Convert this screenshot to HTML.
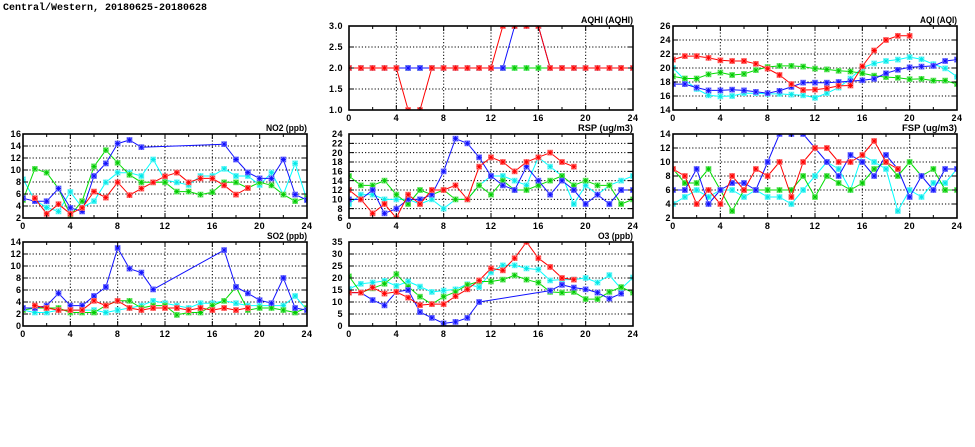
<!DOCTYPE html>
<html><head><meta charset="utf-8">
<style>
html,body{margin:0;padding:0;background:#fff;}
svg{display:block;}
.t{font-family:"Liberation Sans",sans-serif;font-weight:bold;font-size:9px;fill:#000;}
.yl{text-anchor:end;letter-spacing:.5px;}
.xl{text-anchor:middle;letter-spacing:.5px;}
.pt{text-anchor:end;}
.s{fill:none;stroke-width:1;vector-effect:non-scaling-stroke;stroke-linejoin:round;}
.g{stroke:#000;stroke-width:1;stroke-dasharray:1.2,2;fill:none;}
.k{stroke:#000;stroke-width:1;fill:none;}
.f{stroke:#000;stroke-width:1.6;fill:none;}
.r42{stroke:#f00;marker-start:url(#m42r);marker-mid:url(#m42r);marker-end:url(#m42r)}
.g42{stroke:#00dd00;marker-start:url(#m42g);marker-mid:url(#m42g);marker-end:url(#m42g)}
.b42{stroke:#1010ff;marker-start:url(#m42b);marker-mid:url(#m42b);marker-end:url(#m42b)}
.c42{stroke:#00ffff;marker-start:url(#m42c);marker-mid:url(#m42c);marker-end:url(#m42c)}
.r7{stroke:#f00;marker-start:url(#m7r);marker-mid:url(#m7r);marker-end:url(#m7r)}
.g7{stroke:#00dd00;marker-start:url(#m7g);marker-mid:url(#m7g);marker-end:url(#m7g)}
.b7{stroke:#1010ff;marker-start:url(#m7b);marker-mid:url(#m7b);marker-end:url(#m7b)}
.c7{stroke:#00ffff;marker-start:url(#m7c);marker-mid:url(#m7c);marker-end:url(#m7c)}
.r6{stroke:#f00;marker-start:url(#m6r);marker-mid:url(#m6r);marker-end:url(#m6r)}
.g6{stroke:#00dd00;marker-start:url(#m6g);marker-mid:url(#m6g);marker-end:url(#m6g)}
.b6{stroke:#1010ff;marker-start:url(#m6b);marker-mid:url(#m6b);marker-end:url(#m6b)}
.c6{stroke:#00ffff;marker-start:url(#m6c);marker-mid:url(#m6c);marker-end:url(#m6c)}
.r46{stroke:#f00;marker-start:url(#m46r);marker-mid:url(#m46r);marker-end:url(#m46r)}
.g46{stroke:#00dd00;marker-start:url(#m46g);marker-mid:url(#m46g);marker-end:url(#m46g)}
.b46{stroke:#1010ff;marker-start:url(#m46b);marker-mid:url(#m46b);marker-end:url(#m46b)}
.c46{stroke:#00ffff;marker-start:url(#m46c);marker-mid:url(#m46c);marker-end:url(#m46c)}
.r24{stroke:#f00;marker-start:url(#m24r);marker-mid:url(#m24r);marker-end:url(#m24r)}
.g24{stroke:#00dd00;marker-start:url(#m24g);marker-mid:url(#m24g);marker-end:url(#m24g)}
.b24{stroke:#1010ff;marker-start:url(#m24b);marker-mid:url(#m24b);marker-end:url(#m24b)}
.c24{stroke:#00ffff;marker-start:url(#m24c);marker-mid:url(#m24c);marker-end:url(#m24c)}
</style></head>
<body>
<svg width="975" height="447" viewBox="0 0 975 447" xmlns="http://www.w3.org/2000/svg">
<defs>
<g id="pr"><rect x=".5" y=".5" width="5" height="5" fill="#ffb8b8" stroke="#ff7070" stroke-width=".8"/><path d="M1 1L5 5M5 1L1 5M3 .5V5.5M.5 3H5.5" stroke="#f00" stroke-width=".9"/></g>
<g id="pg"><rect x=".5" y=".5" width="5" height="5" fill="#b8f4b8" stroke="#70e870" stroke-width=".8"/><path d="M1 1L5 5M5 1L1 5M3 .5V5.5M.5 3H5.5" stroke="#00cc00" stroke-width=".9"/></g>
<g id="pb"><rect x=".5" y=".5" width="5" height="5" fill="#b8b8ff" stroke="#7070ff" stroke-width=".8"/><path d="M1 1L5 5M5 1L1 5M3 .5V5.5M.5 3H5.5" stroke="#1010ff" stroke-width=".9"/></g>
<g id="pc"><rect x=".5" y=".5" width="5" height="5" fill="#c8ffff" stroke="#70f8f8" stroke-width=".8"/><path d="M1 1L5 5M5 1L1 5M3 .5V5.5M.5 3H5.5" stroke="#00e8e8" stroke-width=".9"/></g>

<marker id="m42r" markerUnits="userSpaceOnUse" markerWidth="0.50704" markerHeight="0.142857" viewBox="0 0 6 6" refX="3" refY="3" preserveAspectRatio="none"><use href="#pr"/></marker>
<marker id="m42g" markerUnits="userSpaceOnUse" markerWidth="0.50704" markerHeight="0.142857" viewBox="0 0 6 6" refX="3" refY="3" preserveAspectRatio="none"><use href="#pg"/></marker>
<marker id="m42b" markerUnits="userSpaceOnUse" markerWidth="0.50704" markerHeight="0.142857" viewBox="0 0 6 6" refX="3" refY="3" preserveAspectRatio="none"><use href="#pb"/></marker>
<marker id="m42c" markerUnits="userSpaceOnUse" markerWidth="0.50704" markerHeight="0.142857" viewBox="0 0 6 6" refX="3" refY="3" preserveAspectRatio="none"><use href="#pc"/></marker>

<marker id="m7r" markerUnits="userSpaceOnUse" markerWidth="0.50704" markerHeight="0.857143" viewBox="0 0 6 6" refX="3" refY="3" preserveAspectRatio="none"><use href="#pr"/></marker>
<marker id="m7g" markerUnits="userSpaceOnUse" markerWidth="0.50704" markerHeight="0.857143" viewBox="0 0 6 6" refX="3" refY="3" preserveAspectRatio="none"><use href="#pg"/></marker>
<marker id="m7b" markerUnits="userSpaceOnUse" markerWidth="0.50704" markerHeight="0.857143" viewBox="0 0 6 6" refX="3" refY="3" preserveAspectRatio="none"><use href="#pb"/></marker>
<marker id="m7c" markerUnits="userSpaceOnUse" markerWidth="0.50704" markerHeight="0.857143" viewBox="0 0 6 6" refX="3" refY="3" preserveAspectRatio="none"><use href="#pc"/></marker>

<marker id="m6r" markerUnits="userSpaceOnUse" markerWidth="0.50704" markerHeight="1" viewBox="0 0 6 6" refX="3" refY="3" preserveAspectRatio="none"><use href="#pr"/></marker>
<marker id="m6g" markerUnits="userSpaceOnUse" markerWidth="0.50704" markerHeight="1" viewBox="0 0 6 6" refX="3" refY="3" preserveAspectRatio="none"><use href="#pg"/></marker>
<marker id="m6b" markerUnits="userSpaceOnUse" markerWidth="0.50704" markerHeight="1" viewBox="0 0 6 6" refX="3" refY="3" preserveAspectRatio="none"><use href="#pb"/></marker>
<marker id="m6c" markerUnits="userSpaceOnUse" markerWidth="0.50704" markerHeight="1" viewBox="0 0 6 6" refX="3" refY="3" preserveAspectRatio="none"><use href="#pc"/></marker>

<marker id="m46r" markerUnits="userSpaceOnUse" markerWidth="0.50704" markerHeight="1.285714" viewBox="0 0 6 6" refX="3" refY="3" preserveAspectRatio="none"><use href="#pr"/></marker>
<marker id="m46g" markerUnits="userSpaceOnUse" markerWidth="0.50704" markerHeight="1.285714" viewBox="0 0 6 6" refX="3" refY="3" preserveAspectRatio="none"><use href="#pg"/></marker>
<marker id="m46b" markerUnits="userSpaceOnUse" markerWidth="0.50704" markerHeight="1.285714" viewBox="0 0 6 6" refX="3" refY="3" preserveAspectRatio="none"><use href="#pb"/></marker>
<marker id="m46c" markerUnits="userSpaceOnUse" markerWidth="0.50704" markerHeight="1.285714" viewBox="0 0 6 6" refX="3" refY="3" preserveAspectRatio="none"><use href="#pc"/></marker>

<marker id="m24r" markerUnits="userSpaceOnUse" markerWidth="0.50704" markerHeight="2.5" viewBox="0 0 6 6" refX="3" refY="3" preserveAspectRatio="none"><use href="#pr"/></marker>
<marker id="m24g" markerUnits="userSpaceOnUse" markerWidth="0.50704" markerHeight="2.5" viewBox="0 0 6 6" refX="3" refY="3" preserveAspectRatio="none"><use href="#pg"/></marker>
<marker id="m24b" markerUnits="userSpaceOnUse" markerWidth="0.50704" markerHeight="2.5" viewBox="0 0 6 6" refX="3" refY="3" preserveAspectRatio="none"><use href="#pb"/></marker>
<marker id="m24c" markerUnits="userSpaceOnUse" markerWidth="0.50704" markerHeight="2.5" viewBox="0 0 6 6" refX="3" refY="3" preserveAspectRatio="none"><use href="#pc"/></marker>

<path id="xgrid" class="g" d="M47.33 0V84M94.67 0V84M142 0V84M189.33 0V84M236.67 0V84"/>
<path id="xtick" class="k" d="M47.33 84v-5M47.33 0v5M94.67 84v-5M94.67 0v5M142 84v-5M142 0v5M189.33 84v-5M189.33 0v5M236.67 84v-5M236.67 0v5M23.67 84v-3M23.67 0v3M71 84v-3M71 0v3M118.33 84v-3M118.33 0v3M165.67 84v-3M165.67 0v3M213 84v-3M213 0v3M260.33 84v-3M260.33 0v3"/>
<path id="yg4" class="g" d="M0 21H284M0 42H284M0 63H284"/>
<path id="yt4" class="k" d="M0 21h5M284 21h-5M0 42h5M284 42h-5M0 63h5M284 63h-5"/>
<path id="yg6" class="g" d="M0 14H284M0 28H284M0 42H284M0 56H284M0 70H284"/>
<path id="yt6" class="k" d="M0 14h5M284 14h-5M0 28h5M284 28h-5M0 42h5M284 42h-5M0 56h5M284 56h-5M0 70h5M284 70h-5"/>
<path id="yg7" class="g" d="M0 12H284M0 24H284M0 36H284M0 48H284M0 60H284M0 72H284"/>
<path id="yt7" class="k" d="M0 12h5M284 12h-5M0 24h5M284 24h-5M0 36h5M284 36h-5M0 48h5M284 48h-5M0 60h5M284 60h-5M0 72h5M284 72h-5"/>
<path id="yg9" class="g" d="M0 9.33H284M0 18.67H284M0 28H284M0 37.33H284M0 46.67H284M0 56H284M0 65.33H284M0 74.67H284"/>
<path id="yt9" class="k" d="M0 9.33h5M284 9.33h-5M0 18.67h5M284 18.67h-5M0 28h5M284 28h-5M0 37.33h5M284 37.33h-5M0 46.67h5M284 46.67h-5M0 56h5M284 56h-5M0 65.33h5M284 65.33h-5M0 74.67h5M284 74.67h-5"/>

<clipPath id="cAQHI"><rect x="349" y="26" width="284" height="84"/></clipPath>
<clipPath id="cAQI"><rect x="673" y="26" width="284" height="84"/></clipPath>
<clipPath id="cNO2"><rect x="23" y="134" width="284" height="84"/></clipPath>
<clipPath id="cRSP"><rect x="349" y="134" width="284" height="84"/></clipPath>
<clipPath id="cFSP"><rect x="673" y="134" width="284" height="84"/></clipPath>
<clipPath id="cSO2"><rect x="23" y="242" width="284" height="84"/></clipPath>
<clipPath id="cO3"><rect x="349" y="242" width="284" height="84"/></clipPath>
</defs>

<rect width="975" height="447" fill="#fff"/>

<text x="3" y="10" font-family="Liberation Mono, monospace" font-weight="bold" font-size="10.5" textLength="204" lengthAdjust="spacingAndGlyphs">Central/Western, 20180625-20180628</text>

<g transform="translate(349,26)"><use href="#xgrid"/><use href="#yg4"/></g>
<g transform="translate(673,26)"><use href="#xgrid"/><use href="#yg6"/></g>
<g transform="translate(23,134)"><use href="#xgrid"/><use href="#yg7"/></g>
<g transform="translate(349,134)"><use href="#xgrid"/><use href="#yg9"/></g>
<g transform="translate(673,134)"><use href="#xgrid"/><use href="#yg6"/></g>
<g transform="translate(23,242)"><use href="#xgrid"/><use href="#yg7"/></g>
<g transform="translate(349,242)"><use href="#xgrid"/><use href="#yg7"/></g>

<g clip-path="url(#cAQHI)"><g transform="translate(349,152) scale(11.8333,-42)">
<polyline class="s c42" points="0,2 1,2 2,2 3,2 4,2 5,2 6,2 7,2 8,2 9,2 10,2 11,2 12,2 13,2 14,2 15,2 16,2 17,2 18,2 19,2 20,2 21,2 22,2 23,2 24,2"/>
<polyline class="s g42" points="0,2 1,2 2,2 3,2 4,2 5,2 6,2 7,2 8,2 9,2 10,2 11,2 12,2 13,2 14,2 15,2 16,2 17,2 18,2 19,2 20,2 21,2 22,2 23,2 24,2"/>
<polyline class="s b42" points="0,2 1,2 2,2 3,2 4,2 5,2 6,2 7,2 8,2 9,2 10,2 11,2 12,2 13,2 14,3 15,3 16,3 17,2 18,2 19,2 20,2 21,2 22,2 23,2 24,2"/>
<polyline class="s r42" points="0,2 1,2 2,2 3,2 4,2 5,1 6,1 7,2 8,2 9,2 10,2 11,2 12,2 13,3 14,3 15,3 16,3 17,2 18,2 19,2 20,2 21,2 22,2 23,2 24,2"/>
</g></g>

<g clip-path="url(#cAQI)"><g transform="translate(673,208) scale(11.8333,-7)">
<polyline class="s c7" points="0,20.0 1,18.3 2,17.0 3,16.1 4,15.95 5,16.0 6,16.4 7,16.4 8,16.3 9,16.3 10,16.2 11,16.1 12,15.75 13,16.4 14,17.2 15,18.5 16,20.05 17,20.65 18,21.0 19,21.2 20,21.55 21,21.25 22,20.55 23,19.95 24,18.75"/>
<polyline class="s g7" points="0,18.8 1,18.5 2,18.5 3,19.1 4,19.35 5,19.0 6,19.15 7,19.7 8,20.15 9,20.3 10,20.3 11,20.2 12,19.9 13,19.8 14,19.6 15,19.5 16,19.25 17,18.9 18,18.7 19,18.6 20,18.4 21,18.45 22,18.2 23,18.2 24,17.7"/>
<polyline class="s b7" points="0,17.7 1,17.7 2,17.2 3,16.8 4,16.8 5,16.9 6,16.8 7,16.6 8,16.4 9,16.75 10,17.3 11,17.9 12,17.9 13,17.9 14,18.0 15,18.1 16,18.25 17,18.45 18,19.25 19,19.75 20,20.1 21,20.2 22,20.3 23,21.0 24,21.2"/>
<polyline class="s r7" points="0,21.2 1,21.7 2,21.7 3,21.45 4,21.1 5,21.0 6,21.0 7,20.6 8,19.9 9,19.0 10,17.7 11,16.85 12,16.9 13,17.1 14,17.45 15,17.5 16,20.25 17,22.5 18,24.0 19,24.6 20,24.6"/>
</g></g>

<g clip-path="url(#cNO2)"><g transform="translate(23,230) scale(11.8333,-6)">
<polyline class="s c6" points="0,8.45 1,5.0 2,3.75 3,3.1 4,6.35 5,3.75 6,4.8 7,7.95 8,9.55 9,9.55 10,9.0 11,11.75 12,8.3 13,7.95 14,7.5 15,9.0 16,9.0 17,10.2 18,9.0 19,9.0 20,7.5 21,9.55 22,5.9 23,11.1 24,5.0"/>
<polyline class="s g6" points="0,5.0 1,10.2 2,9.55 3,6.9 4,2.45 5,4.8 6,10.6 7,13.3 8,11.2 9,9.2 10,7.95 11,7.95 12,7.95 13,6.4 14,6.4 15,5.9 16,6.3 17,7.95 18,7.95 19,7.0 20,7.95 21,7.45 22,5.9 23,4.8 24,5.4"/>
<polyline class="s b6" points="0,5.3 1,4.8 2,4.8 3,6.9 4,3.7 5,3.1 6,9.0 7,11.1 8,14.4 9,15.0 10,13.8 17,14.3 18,11.75 19,9.6 20,8.6 21,8.6 22,11.75 23,5.9 24,5.0"/>
<polyline class="s r6" points="1,5.3 2,2.7 3,4.3 4,2.7 5,3.7 6,6.4 7,5.4 8,7.95 9,5.8 10,6.9 11,7.95 12,8.95 13,9.55 14,7.95 15,8.6 16,8.6 17,7.45 18,5.9 19,7.0"/>
</g></g>

<g clip-path="url(#cRSP)"><g transform="translate(349,246) scale(11.8333,-4.66667)">
<polyline class="s c46" points="0,9 1,11 2,11 3,10 4,10 5,10 6,9 7,10 8,8 9,10 10,10 11,13 12,15 13,15 14,14 15,13 16,19 17,17 18,15 19,9 20,13 21,11 22,13 23,14 24,15"/>
<polyline class="s g46" points="0,15 1,13 2,13 3,14 4,11 5,9 6,12 7,11 8,12 9,10 10,10 11,13 12,11 13,14 14,12 15,12 16,13 17,14 18,15 19,13 20,14 21,13 22,13 23,9 24,10"/>
<polyline class="s b46" points="0,10 1,10 2,12 3,7 4,8 5,10 6,10 7,11 8,16 9,23 10,22 11,19 12,15 13,13 14,12 15,17 16,14 17,11 18,14 19,12 20,9 21,11 22,9 23,12 24,12"/>
<polyline class="s r46" points="0,12 1,10 2,7 3,9 4,6 5,11 6,9 7,12 8,12 9,13 10,10 11,17 12,19 13,18 14,16 15,18 16,19 17,20 18,18 19,17"/>
</g></g>

<g clip-path="url(#cFSP)"><g transform="translate(673,232) scale(11.8333,-7)">
<polyline class="s c7" points="0,4 1,5 2,6 3,5 4,6 5,6 6,5 7,6 8,5 9,5 10,4 11,6 12,8 13,10 14,9 15,6 16,11 17,10 18,9 19,3 20,6 21,5 22,7 23,7 24,9"/>
<polyline class="s g7" points="0,9 1,7 2,7 3,9 4,6 5,3 6,6 7,6 8,6 9,6 10,6 11,8 12,5 13,8 14,7 15,6 16,7 17,9 18,10 19,8 20,10 21,8 22,9 23,6 24,6"/>
<polyline class="s b7" points="0,6 1,6 2,9 3,4 4,6 5,7 6,7 7,6 8,10 9,14 10,14 11,14 12,12 13,10 14,8 15,11 16,10 17,8 18,11 19,9 20,5 21,8 22,6 23,9 24,9"/>
<polyline class="s r7" points="0,9 1,8 2,4 3,6 4,4 5,8 6,6 7,9 8,8 9,10 10,5 11,10 12,12 13,12 14,10 15,10 16,11 17,13 18,10 19,9"/>
</g></g>

<g clip-path="url(#cSO2)"><g transform="translate(23,326) scale(11.8333,-6)">
<polyline class="s c6" points="0,2.65 1,2.25 2,2.25 3,2.65 4,2.65 5,2.65 6,2.65 7,2.25 8,2.65 9,3.0 10,3.4 11,4.2 12,3.8 13,3.4 14,3.0 15,3.8 16,3.8 17,4.2 18,3.8 19,3.4 20,3.4 21,3.4 22,3.4 23,5.0 24,2.65"/>
<polyline class="s g6" points="0,2.65 1,3.0 2,3.0 3,3.0 4,2.25 5,2.25 6,2.25 7,3.4 8,4.2 9,4.2 10,3.0 11,3.4 12,3.4 13,1.85 14,2.25 15,2.25 16,3.4 17,4.2 18,6.5 19,2.65 20,3.0 21,3.0 22,2.65 23,2.25 24,3.0"/>
<polyline class="s b6" points="0,3.0 1,3.0 2,3.4 3,5.45 4,3.4 5,3.4 6,5.0 7,6.5 8,13.0 9,9.55 10,8.9 11,6.1 17,12.65 18,6.5 19,5.45 20,4.3 21,3.8 22,8.0 23,3.0 24,2.65"/>
<polyline class="s r6" points="1,3.4 2,3.0 3,2.65 4,2.65 5,2.65 6,4.2 7,3.4 8,4.2 9,3.0 10,2.65 11,3.0 12,3.0 13,3.0 14,2.65 15,3.0 16,2.65 17,3.0 18,2.65 19,3.0"/>
</g></g>

<g clip-path="url(#cO3)"><g transform="translate(349,326) scale(11.8333,-2.4)">
<polyline class="s c24" points="0,15.5 1,17.6 2,18.1 3,18.8 4,16.7 5,18.55 6,16.4 7,14.2 8,14.75 9,15.3 10,17.4 11,16.2 12,22.35 13,25.3 14,25.3 15,24.0 16,23.5 17,19.0 18,19.3 19,19.3 20,20.0 21,18.1 22,21.2 23,15.5 24,20.2"/>
<polyline class="s g24" points="0,20.7 1,13.9 2,15.7 3,17.6 4,21.6 5,16.4 6,12.2 7,9.1 8,12.2 9,14.2 10,17.15 11,18.55 12,18.55 13,19.3 14,21.1 15,19.3 16,18.1 17,14.2 18,13.9 19,14.2 20,11.2 21,11.2 22,14.2 23,16.2 24,13.9"/>
<polyline class="s b24" points="0,13.9 1,13.9 2,10.8 3,8.6 4,14.2 5,15.0 6,5.8 7,3.4 8,1.1 9,1.7 10,3.4 11,10.0 17,14.75 18,17.15 19,16.0 20,15.3 21,13.9 22,11.4 23,13.5"/>
<polyline class="s r24" points="0,13.9 1,13.9 2,16.0 3,13.5 4,14.2 5,11.8 6,8.7 7,9.1 8,9.1 9,12.4 10,15.3 11,19.0 12,24.0 13,23.2 14,28.25 15,35 16,28.25 17,24.6 18,20.0 19,19.3"/>
</g></g>

<g transform="translate(349,26)"><use href="#xtick"/><use href="#yt4"/><rect class="f" x="0" y="0" width="284" height="84"/></g>
<g transform="translate(673,26)"><use href="#xtick"/><use href="#yt6"/><rect class="f" x="0" y="0" width="284" height="84"/></g>
<g transform="translate(23,134)"><use href="#xtick"/><use href="#yt7"/><rect class="f" x="0" y="0" width="284" height="84"/></g>
<g transform="translate(349,134)"><use href="#xtick"/><use href="#yt9"/><rect class="f" x="0" y="0" width="284" height="84"/></g>
<g transform="translate(673,134)"><use href="#xtick"/><use href="#yt6"/><rect class="f" x="0" y="0" width="284" height="84"/></g>
<g transform="translate(23,242)"><use href="#xtick"/><use href="#yt7"/><rect class="f" x="0" y="0" width="284" height="84"/></g>
<g transform="translate(349,242)"><use href="#xtick"/><use href="#yt7"/><rect class="f" x="0" y="0" width="284" height="84"/></g>

<text class="t pt" x="633" y="23" textLength="52" lengthAdjust="spacingAndGlyphs">AQHI (AQHI)</text>
<text class="t pt" x="957" y="23" textLength="37" lengthAdjust="spacingAndGlyphs">AQI (AQI)</text>
<text class="t pt" x="307" y="131" textLength="41" lengthAdjust="spacingAndGlyphs">NO2 (ppb)</text>
<text class="t pt" x="633" y="131" textLength="55" lengthAdjust="spacingAndGlyphs">RSP (ug/m3)</text>
<text class="t pt" x="957" y="131" textLength="55" lengthAdjust="spacingAndGlyphs">FSP (ug/m3)</text>
<text class="t pt" x="307" y="239" textLength="40" lengthAdjust="spacingAndGlyphs">SO2 (ppb)</text>
<text class="t pt" x="633" y="239" textLength="35" lengthAdjust="spacingAndGlyphs">O3 (ppb)</text>

<g class="t yl">
<text x="343" y="29.2">3.0</text><text x="343" y="50.2">2.5</text><text x="343" y="71.2">2.0</text><text x="343" y="92.2">1.5</text><text x="343" y="113.2">1.0</text>
<text x="671" y="29.2">26</text><text x="671" y="43.2">24</text><text x="671" y="57.2">22</text><text x="671" y="71.2">20</text><text x="671" y="85.2">18</text><text x="671" y="99.2">16</text><text x="671" y="113.2">14</text>
<text x="21.5" y="137.2">16</text><text x="21.5" y="149.2">14</text><text x="21.5" y="161.2">12</text><text x="21.5" y="173.2">10</text><text x="21.5" y="185.2">8</text><text x="21.5" y="197.2">6</text><text x="21.5" y="209.2">4</text><text x="21.5" y="221.2">2</text>
<text x="343" y="137.2">24</text><text x="343" y="146.5">22</text><text x="343" y="155.9">20</text><text x="343" y="165.2">18</text><text x="343" y="174.5">16</text><text x="343" y="183.9">14</text><text x="343" y="193.2">12</text><text x="343" y="202.5">10</text><text x="343" y="211.9">8</text><text x="343" y="221.2">6</text>
<text x="671" y="137.2">14</text><text x="671" y="151.2">12</text><text x="671" y="165.2">10</text><text x="671" y="179.2">8</text><text x="671" y="193.2">6</text><text x="671" y="207.2">4</text><text x="671" y="221.2">2</text>
<text x="21.5" y="245.2">14</text><text x="21.5" y="257.2">12</text><text x="21.5" y="269.2">10</text><text x="21.5" y="281.2">8</text><text x="21.5" y="293.2">6</text><text x="21.5" y="305.2">4</text><text x="21.5" y="317.2">2</text><text x="21.5" y="329.2">0</text>
<text x="343" y="245.2">35</text><text x="343" y="257.2">30</text><text x="343" y="269.2">25</text><text x="343" y="281.2">20</text><text x="343" y="293.2">15</text><text x="343" y="305.2">10</text><text x="343" y="317.2">5</text><text x="343" y="329.2">0</text>
</g>

<g class="t xl">
<text x="349" y="121">0</text><text x="396.33" y="121">4</text><text x="443.67" y="121">8</text><text x="491" y="121">12</text><text x="538.33" y="121">16</text><text x="585.67" y="121">20</text><text x="633" y="121">24</text>
<text x="673" y="121">0</text><text x="720.33" y="121">4</text><text x="767.67" y="121">8</text><text x="815" y="121">12</text><text x="862.33" y="121">16</text><text x="909.67" y="121">20</text><text x="957" y="121">24</text>
<text x="23" y="229">0</text><text x="70.33" y="229">4</text><text x="117.67" y="229">8</text><text x="165" y="229">12</text><text x="212.33" y="229">16</text><text x="259.67" y="229">20</text><text x="307" y="229">24</text>
<text x="349" y="229">0</text><text x="396.33" y="229">4</text><text x="443.67" y="229">8</text><text x="491" y="229">12</text><text x="538.33" y="229">16</text><text x="585.67" y="229">20</text><text x="633" y="229">24</text>
<text x="673" y="229">0</text><text x="720.33" y="229">4</text><text x="767.67" y="229">8</text><text x="815" y="229">12</text><text x="862.33" y="229">16</text><text x="909.67" y="229">20</text><text x="957" y="229">24</text>
<text x="23" y="337">0</text><text x="70.33" y="337">4</text><text x="117.67" y="337">8</text><text x="165" y="337">12</text><text x="212.33" y="337">16</text><text x="259.67" y="337">20</text><text x="307" y="337">24</text>
<text x="349" y="337">0</text><text x="396.33" y="337">4</text><text x="443.67" y="337">8</text><text x="491" y="337">12</text><text x="538.33" y="337">16</text><text x="585.67" y="337">20</text><text x="633" y="337">24</text>
</g>
</svg>
</body></html>
